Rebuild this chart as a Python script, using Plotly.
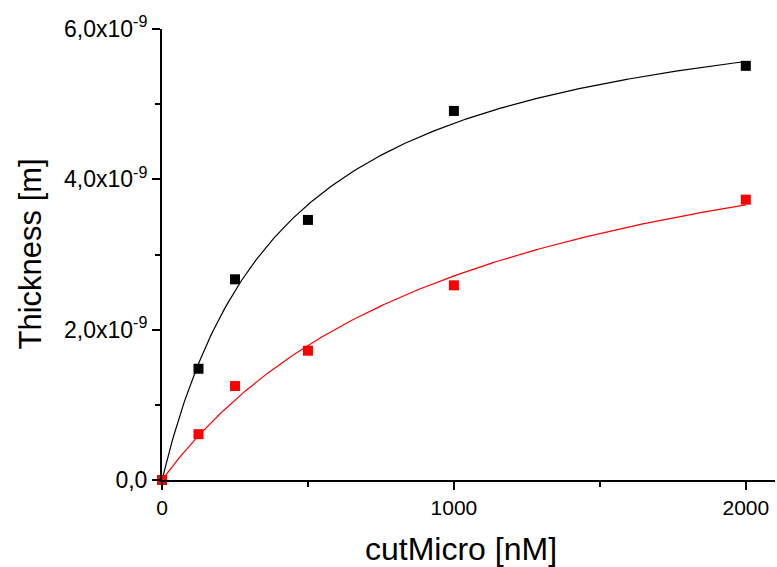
import numpy as np
import plotly.graph_objects as go

# Data
conc = [0, 125, 250, 500, 1000, 2000]          # cutMicro [nM]
thick_black = [0.0, 1.48e-9, 2.67e-9, 3.46e-9, 4.91e-9, 5.51e-9]
thick_red = [0.0, 0.61e-9, 1.25e-9, 1.72e-9, 2.59e-9, 3.73e-9]

y_tickvals = [0, 2e-9, 4e-9, 6e-9]
y_ticktext = ["0,0", "2,0x10<sup>-9</sup>", "4,0x10<sup>-9</sup>", "6,0x10<sup>-9</sup>"]
x_tickvals = [0, 1000, 2000]
x_ticktext = ["0", "1000", "2000"]


def hyperbola_fit(x, y):
    """Least-squares fit of y = B*x/(K+x) (Origin 'Hyperbl' style)."""
    x = np.asarray(x, float)
    y = np.asarray(y, float)
    best = None
    for K in np.linspace(10, 5000, 4991):
        f = x / (K + x)
        B = (y @ f) / (f @ f)
        r = np.sum((y - B * f) ** 2)
        if best is None or r < best[0]:
            best = (r, K, B)
    return best[1], best[2]


xf = np.linspace(0, max(conc), 300)
fig = go.Figure()
for ys, col in [(thick_black, "#000000"), (thick_red, "#FF0000")]:
    K, B = hyperbola_fit(conc, ys)
    fig.add_trace(go.Scatter(x=xf, y=B * xf / (K + xf), mode="lines",
                             line=dict(color=col, width=1.2), showlegend=False,
                             hoverinfo="skip"))
    fig.add_trace(go.Scatter(x=conc, y=ys, mode="markers",
                             marker=dict(symbol="square", size=10, color=col,
                                         line=dict(width=0)),
                             cliponaxis=False, showlegend=False))

font = "Liberation Sans, Arial, sans-serif"
fig.update_layout(
    width=777, height=567,
    margin=dict(l=162, r=2, t=29, b=87),
    plot_bgcolor="white", paper_bgcolor="white",
    font=dict(family=font, color="black", size=20),
    xaxis=dict(range=[0, 2100], tickvals=x_tickvals, ticktext=x_ticktext,
               showgrid=False, zeroline=False, showline=True, linecolor="black",
               linewidth=2, ticks="outside", ticklen=8, tickwidth=1.5,
               tickcolor="black", tickfont=dict(size=21),
               minor=dict(tickvals=[500, 1500], ticks="outside", ticklen=5,
                          tickwidth=1.5, tickcolor="black", showgrid=False)),
    yaxis=dict(range=[0, 6e-9], tickvals=y_tickvals, ticktext=y_ticktext,
               showgrid=False, zeroline=False, showline=True, linecolor="black",
               linewidth=2, ticks="outside", ticklen=8, tickwidth=1.5,
               tickcolor="black", tickfont=dict(size=23),
               minor=dict(tickvals=[1e-9, 3e-9, 5e-9], ticks="outside", ticklen=5,
                          tickwidth=1.5, tickcolor="black", showgrid=False)),
    annotations=[
        dict(text="cutMicro [nM]", xref="paper", yref="paper", x=0.488, y=0,
             xanchor="center", yanchor="middle", yshift=-69, showarrow=False,
             font=dict(size=32)),
        dict(text="Thickness [m]", xref="paper", yref="paper", x=0, y=0.5,
             xanchor="center", yanchor="middle", xshift=-132, textangle=-90,
             showarrow=False, font=dict(size=31)),
    ],
)
fig.write_html("out.html")
